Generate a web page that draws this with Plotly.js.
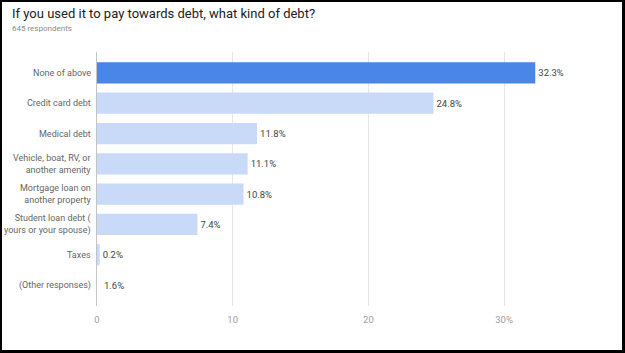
<!DOCTYPE html>
<html>
<head>
<meta charset="utf-8">
<script src="https://cdn.plot.ly/plotly-3.0.1.min.js"></script>
<style>
  html, body { margin: 0; padding: 0; background: #fff; }
  #wrap { position: relative; width: 625px; height: 353px; }
  #chart { position: absolute; left: 0; top: 0; width: 625px; height: 353px; }
  #frame { position: absolute; left: 0; top: 0; width: 625px; height: 353px; box-sizing: border-box;
           border-top: 2px solid #000; border-left: 2px solid #000; border-right: 3px solid #000; border-bottom: 3px solid #000;
           pointer-events: none; }
</style>
</head>
<body>
<div id="wrap"><div id="chart"></div><div id="frame"></div></div>
<script>
const categories = [
  "None of above",
  "Credit card debt",
  "Medical debt",
  "Vehicle, boat, RV, or<br>another amenity",
  "Mortgage loan on<br>another property",
  "Student loan debt (<br>yours or your spouse)",
  "Taxes",
  "(Other responses)"
];
const values = [32.3, 24.8, 11.8, 11.1, 10.8, 7.4, 0.2, 1.6];
// "(Other responses)" is listed without a drawn bar in the source chart
const barShown = [true, true, true, true, true, true, true, false];
const tickValues = [0, 10, 20, 30];
const tickLabels = ["0", "10", "20", "30%"];
const titleText = "If you used it to pay towards debt, what kind of debt?";
const subtitleText = "645 respondents";

const FONT = "Roboto, Arial, sans-serif";
const maxVal = Math.max(...values);
const colors = values.map((v, i) => !barShown[i] ? "rgba(0,0,0,0)" : (v === maxVal ? "#4a86e8" : "#c9daf8"));
const labels = values.map(v => v.toFixed(1) + "%");
const yIdx = categories.map((c, i) => i);

const barTrace = {
  type: "bar",
  orientation: "h",
  x: values,
  y: yIdx,
  width: 0.7,
  marker: { color: colors },
  text: labels.map((t, i) => barShown[i] ? t : ""),
  textposition: "outside",
  cliponaxis: false,
  textfont: { family: FONT, size: 9.5, color: "#444" },
  hoverinfo: "none"
};

// labels for rows listed without a bar sit at the baseline
const hiddenAnnotations = yIdx.filter(i => !barShown[i]).map(i => ({
  text: labels[i], xref: "x", yref: "y", x: 0, y: i, xanchor: "left", yanchor: "middle",
  xshift: 5, showarrow: false,
  font: { family: FONT, size: 9.5, color: "#444" }
}));

const catAnnotations = categories.map((c, i) => ({
  text: c, xref: "paper", yref: "y", x: 0, y: i, xanchor: "right", yanchor: "middle",
  xshift: -4, align: "right", showarrow: false,
  font: { family: FONT, size: 9, color: "#666" }
}));

const layout = {
  width: 625, height: 353,
  margin: { l: 97, r: 25, t: 52, b: 47 },
  paper_bgcolor: "#fff", plot_bgcolor: "#fff",
  showlegend: false,
  font: { family: FONT },
  xaxis: {
    range: [0, 37.07],
    tickvals: tickValues,
    ticktext: tickLabels,
    showgrid: true, gridcolor: "#e6e6e6", gridwidth: 1,
    zeroline: false,
    showline: false,
    ticks: "",
    ticklabelstandoff: 6,
    tickfont: { size: 9.5, color: "#9e9e9e" },
    fixedrange: true
  },
  yaxis: {
    range: [7.69, -0.69],
    tickvals: yIdx,
    showticklabels: false,
    showgrid: false, zeroline: false,
    showline: true, linecolor: "#c4c4c4", linewidth: 1.5,
    ticks: "",
    fixedrange: true
  },
  annotations: [
    { text: titleText, xref: "paper", yref: "paper", x: -87/503, y: 1 + 39/254, xanchor: "left", yanchor: "middle",
      showarrow: false, font: { family: FONT, size: 13, color: "#212121" } },
    { text: subtitleText, xref: "paper", yref: "paper", x: -87/503, y: 1 + 23/254, xanchor: "left", yanchor: "middle",
      showarrow: false, font: { family: FONT, size: 8, color: "#8a8a8a" } }
  ].concat(catAnnotations, hiddenAnnotations)
};

Plotly.newPlot("chart", [barTrace], layout, { displayModeBar: false, staticPlot: true });
</script>
</body>
</html>
